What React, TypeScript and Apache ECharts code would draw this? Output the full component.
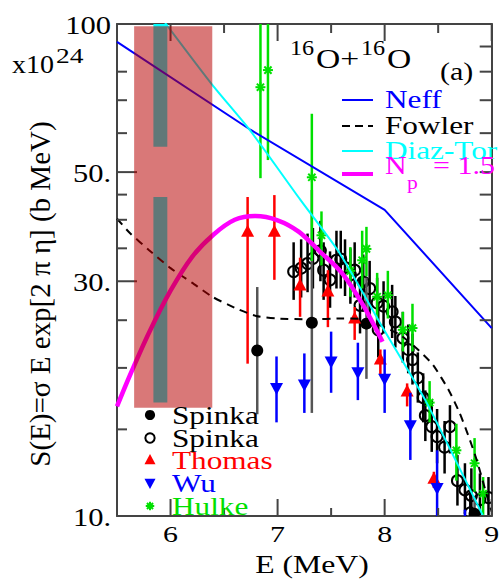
import React, { useEffect, useRef } from "react";
import * as echarts from "echarts";

const SERIF = "'Liberation Serif', 'Times New Roman', Times, serif";
const font = (size: number) => `${size}px ${SERIF}`;

// Axis ranges and tick positions
const eRange = [5.5, 9];
const sRange = [10, 100];
const eMajorTicks = [6, 7, 8, 9];
const eMinorTicks = [6.5, 7.5, 8.5];
const sLabelledTicks = [10, 30, 50, 100];
const sMinorTicks = [15, 20, 25, 35, 40, 45, 60, 70, 80];
const sRightOnlyTicks = [90];

// Model curves: [E (MeV), S (x10^24 b MeV)]
const neff = [[5.5, 92.0], [6.75, 60.9], [8.0, 41.9], [9.0, 24.1]];
const fowler = [
  [5.5, 40.2], [5.62, 37.6], [5.8, 34.7], [6.0, 31.9], [6.2, 29.8], [6.39, 27.9],
  [6.6, 26.5], [6.8, 25.5], [7.0, 25.2], [7.3, 25.1], [7.6, 25.2], [7.8, 25.1],
  [8.0, 24.2], [8.15, 23.3], [8.3, 21.9], [8.45, 20.3], [8.6, 18.0], [8.7, 16.2],
  [8.78, 14.6], [8.86, 13.0], [8.94, 11.3], [9.0, 10.2],
];
const diazTorres = [
  [5.95, 100.5], [6.39, 75.2], [6.74, 60.9], [7.21, 44.0], [7.58, 34.2],
  [7.98, 24.2], [8.38, 17.2], [8.92, 10.0], [8.95, 9.7],
];
const np15 = [
  [5.5, 16.7], [5.62, 19.3], [5.8, 23.6], [6.0, 28.7], [6.2, 33.6], [6.4, 37.3],
  [6.6, 40.0], [6.79, 40.7], [7.0, 39.9], [7.2, 37.8], [7.4, 34.4], [7.6, 31.2],
  [7.8, 26.8], [7.98, 22.6],
];

// Measurements: [E, S, S lower, S upper]
const spinkaFilled = [
  [6.81, 21.7, 16.1, 29.2], [7.32, 24.7, 16.2, 46.0], [7.83, 24.6, 19.0, 30.5], [8.84, 10.1, 9.3, 10.9],
];
const spinkaOpen = [
  [7.15, 31.4, 27.5, 36.0], [7.22, 31.9, 27.8, 36.5], [7.28, 32.6, 28.5, 37.5],
  [7.33, 33.4, 29.0, 38.5], [7.4, 34.6, 30.0, 39.8], [7.43, 31.6, 27.5, 36.0],
  [7.49, 30.2, 26.5, 34.5], [7.55, 33.1, 29.0, 38.0], [7.59, 33.3, 29.0, 38.0],
  [7.63, 32.0, 28.0, 36.5], [7.68, 30.9, 27.0, 35.0], [7.72, 31.6, 27.8, 36.0],
  [7.77, 26.8, 23.5, 30.5], [7.8, 29.9, 26.0, 34.0], [7.86, 29.0, 25.5, 33.0],
  [7.93, 27.1, 24.0, 30.5], [7.94, 23.9, 21.0, 27.0], [7.99, 26.7, 23.5, 30.0],
  [8.07, 26.0, 23.0, 29.5], [8.1, 24.8, 22.0, 28.0], [8.17, 23.0, 20.5, 26.0],
  [8.22, 21.8, 19.5, 24.5], [8.26, 20.8, 18.5, 23.5], [8.31, 19.1, 17.0, 21.5],
  [8.36, 17.4, 15.5, 19.5], [8.38, 16.0, 14.2, 18.0], [8.44, 15.2, 13.5, 17.2],
  [8.49, 14.5, 12.8, 16.5], [8.56, 13.8, 12.2, 15.6], [8.61, 15.2, 13.4, 16.8],
  [8.68, 11.8, 10.5, 13.3], [8.75, 11.3, 10.1, 12.8], [8.8, 10.15, 9.5, 11.2],
  [8.81, 11.0, 9.8, 12.5], [8.89, 10.8, 9.7, 12.2], [8.97, 10.9, 9.8, 12.0],
];
const thomas = [
  [6.72, 37.8, 20.4, 44.5], [6.97, 37.8, 30.2, 44.9], [7.21, 29.4, 25.4, 33.5],
  [7.47, 28.6, 24.2, 31.6], [7.72, 25.2, 22.8, 26.6], [7.96, 20.8, 19.4, 21.8],
  [8.21, 17.9, 16.7, 18.6], [8.46, 11.9, 11.4, 12.3],
];
const wu = [
  [6.99, 18.2, 15.5, 21.1], [7.25, 18.5, 16.2, 21.4], [7.5, 20.6, 17.8, 23.7],
  [7.75, 19.6, 17.2, 22.5], [8.0, 19.0, 16.2, 21.8], [8.24, 15.3, 13.0, 17.8],
  [8.49, 11.4, 9.9, 13.6], [8.75, 9.6, 8.6, 10.3],
];
const hulke = [
  [6.84, 74.4, 48.6, 105], [6.91, 80.6, 52.9, 105], [7.32, 48.8, 33.0, 65.7],
  [7.41, 37.2, 32.3, 41.6], [7.68, 31.5, 27.9, 35.2], [7.79, 33.1, 29.0, 38.0],
  [7.83, 34.9, 30.7, 38.7], [7.93, 27.9, 25.0, 31.2], [8.03, 28.1, 25.2, 31.5],
  [8.17, 23.9, 21.6, 26.0], [8.26, 24.1, 21.6, 27.0], [8.42, 17.0, 15.5, 18.8],
  [8.67, 13.6, 11.8, 15.4], [8.84, 12.8, 11.2, 14.4], [8.92, 11.1, 10.0, 12.0],
];

// Boxes: [E from, E to, S from, S to]
const cyanBars = [[5.84, 5.97, 17.0, 44.5], [5.84, 5.97, 56.3, 100]];
const shadedBand = [[5.66, 6.39, 16.6, 99]];

const FRAME = "#444";
const RED = "#ff0000";
const BLUE = "#0000ff";
const GREEN = "#00e000";
const CYAN = "#00ffff";
const MAGENTA = "#ff00ff";

function seg(x1: number, y1: number, x2: number, y2: number, stroke: string, lineWidth: number): any {
  return { type: "line", shape: { x1, y1, x2, y2 }, style: { stroke, lineWidth } };
}

function marker(kind: string, cx: number, cy: number, color: string, s = 1): any {
  switch (kind) {
    case "disc":
      return { type: "circle", shape: { cx, cy, r: 6 * s }, style: { fill: color } };
    case "ring":
      return { type: "circle", shape: { cx, cy, r: 5.5 * s }, style: { fill: "none", stroke: color, lineWidth: 2 } };
    case "up":
      return {
        type: "polygon",
        shape: { points: [[cx, cy - 7 * s], [cx - 6.5 * s, cy + 5 * s], [cx + 6.5 * s, cy + 5 * s]] },
        style: { fill: color },
      };
    case "down":
      return {
        type: "polygon",
        shape: { points: [[cx - 6.5 * s, cy - 5 * s], [cx + 6.5 * s, cy - 5 * s], [cx, cy + 7 * s]] },
        style: { fill: color },
      };
    default: {
      const a = 5 * s;
      const d = 3.6 * s;
      return {
        type: "group",
        children: [
          seg(cx - a, cy, cx + a, cy, color, 2),
          seg(cx, cy - a, cx, cy + a, color, 2),
          seg(cx - d, cy - d, cx + d, cy + d, color, 2),
          seg(cx - d, cy + d, cx + d, cy - d, color, 2),
        ],
      };
    }
  }
}

function text(str: string, x: number, y: number, size: number, fill: string, opts: any = {}): any {
  const align = opts.align || "left";
  return {
    type: "text",
    x,
    y,
    scaleX: opts.scaleX ?? 1.24,
    rotation: opts.rotation || 0,
    z: 20,
    style: {
      text: str,
      font: font(size),
      fill,
      align,
      verticalAlign: "middle",
      textAlign: align,
      textVerticalAlign: "middle",
    },
  };
}

function errorSeries(name: string, data: number[][], kind: string, color: string, barColor: string): any {
  return {
    type: "custom",
    name,
    data,
    z: 3,
    clip: true,
    silent: true,
    encode: { x: 0, y: [1, 2, 3] },
    renderItem: (_params: any, api: any) => {
      const e = api.value(0);
      const p = api.coord([e, api.value(1)]);
      const lo = api.coord([e, api.value(2)]);
      const hi = api.coord([e, api.value(3)]);
      return {
        type: "group",
        children: [seg(p[0], lo[1], p[0], hi[1], barColor, 2.5), marker(kind, p[0], p[1], color)],
      };
    },
  };
}

function boxSeries(data: number[][], fill: string, z: number): any {
  return {
    type: "custom",
    data,
    z,
    clip: true,
    silent: true,
    encode: { x: [0, 1], y: [2, 3] },
    renderItem: (_params: any, api: any) => {
      const a = api.coord([api.value(0), api.value(3)]);
      const b = api.coord([api.value(1), api.value(2)]);
      return {
        type: "rect",
        shape: { x: a[0], y: a[1], width: b[0] - a[0], height: b[1] - a[1] },
        style: { fill },
      };
    },
  };
}

function curve(data: number[][], color: string, width: number, extra: any = {}): any {
  return {
    type: "line",
    data,
    z: 4,
    clip: true,
    silent: true,
    showSymbol: false,
    symbol: "none",
    lineStyle: { color, width, ...(extra.lineStyle || {}) },
    smooth: extra.smooth ?? false,
  };
}

function buildOption(): any {
  const rightTicks = [...sLabelledTicks, ...sMinorTicks, ...sRightOnlyTicks];
  const tickRows = [
    ...sLabelledTicks.map((v) => [eRange[0], v, 20, 0]),
    ...sMinorTicks.map((v) => [eRange[0], v, 10, 0]),
    ...rightTicks.map((v) => [eRange[1], v, -12, 0]),
    ...eMajorTicks.map((e) => [e, sRange[0], 0, -17]),
    ...eMinorTicks.map((e) => [e, sRange[0], 0, -8]),
    ...eMajorTicks.map((e) => [e, sRange[1], 0, 17]),
    ...eMinorTicks.map((e) => [e, sRange[1], 0, 9]),
  ];

  const axisBase = {
    axisLine: { show: true, onZero: false, lineStyle: { color: FRAME, width: 2 } },
    axisTick: { show: false },
    axisLabel: { show: false },
    splitLine: { show: false },
  };

  const legendTop = [
    { label: "Neff", color: BLUE, y: 100, width: 2, dash: null },
    { label: "Fowler", color: "#000", y: 126, width: 2, dash: [8, 5] },
    { label: "Diaz-Tor", color: CYAN, y: 151, width: 2, dash: null },
  ];
  const legendBottom = [
    { label: "Spinka", kind: "disc", color: "#000", y: 415 },
    { label: "Spinka", kind: "ring", color: "#000", y: 438 },
    { label: "Thomas", kind: "up", color: RED, y: 460 },
    { label: "Wu", kind: "down", color: BLUE, y: 483 },
    { label: "Hulke", kind: "star", color: GREEN, y: 506 },
  ];

  const graphic: any[] = [
    text("S(E)=σ E exp[2 π η] (b MeV)", 40, 294, 29, "#000", { align: "center", rotation: Math.PI / 2, scaleX: 1 }),
    text("E (MeV)", 312, 565, 25, "#000", { align: "center", scaleX: 1.27 }),
    text("x10", 12, 65, 25, "#000", { scaleX: 1.12 }),
    text("24", 56, 55, 22, "#000", { scaleX: 1.25 }),
    text("16", 290, 48, 21, "#000", { scaleX: 1.15 }),
    text("O+", 316, 58, 28, "#000", { scaleX: 1.2 }),
    text("16", 361, 48, 21, "#000", { scaleX: 1.15 }),
    text("O", 387, 58, 28, "#000", { scaleX: 1.2 }),
    text("(a)", 440, 71, 25, "#000", { scaleX: 1.2 }),
  ];
  legendTop.forEach((row) => {
    const ln = seg(342, row.y, 373, row.y, row.color, row.width);
    if (row.dash) ln.style.lineDash = row.dash;
    graphic.push(ln);
    graphic.push(text(row.label, 385, row.y, 25, row.color, { scaleX: 1.25 }));
  });
  graphic.push(seg(342, 174, 373, 174, MAGENTA, 4));
  graphic.push(text("N", 385, 165, 25, MAGENTA, { scaleX: 1.2 }));
  graphic.push(text("p", 407, 183, 18, MAGENTA, { scaleX: 1.2 }));
  graphic.push(text("= 1.5", 433, 165, 25, MAGENTA, { scaleX: 1.2 }));
  legendBottom.forEach((row) => {
    graphic.push(marker(row.kind, 150, row.y, row.color, 0.85));
    graphic.push(text(row.label, 172, row.y + 1, 25, row.color, { scaleX: 1.25 }));
  });

  return {
    animation: false,
    backgroundColor: "#fff",
    grid: { left: 117, top: 24, right: 12.3, bottom: 65, outerBoundsMode: "none" },
    xAxis: [
      { type: "value", min: eRange[0], max: eRange[1], position: "bottom", ...axisBase },
      { type: "value", min: eRange[0], max: eRange[1], position: "top", ...axisBase },
    ],
    yAxis: [
      { type: "log", logBase: 10, min: sRange[0], max: sRange[1], position: "left", ...axisBase },
      { type: "log", logBase: 10, min: sRange[0], max: sRange[1], position: "right", ...axisBase },
    ],
    graphic,
    series: [
      boxSeries(cyanBars, CYAN, 2),
      errorSeries("Spinka open", spinkaOpen, "ring", "#000", "#000"),
      errorSeries("Spinka", spinkaFilled, "disc", "#000", "#555"),
      errorSeries("Thomas", thomas, "up", RED, RED),
      errorSeries("Wu", wu, "down", BLUE, BLUE),
      errorSeries("Hulke", hulke, "star", GREEN, GREEN),
      curve(neff, BLUE, 2),
      curve(fowler, "#000", 2, { smooth: 0.2, lineStyle: { type: [8, 6] } }),
      curve(diazTorres, CYAN, 2, { smooth: 0.2 }),
      curve(np15, MAGENTA, 4.5, { smooth: 0.3 }),
      {
        type: "custom",
        data: tickRows,
        z: 5,
        clip: false,
        silent: true,
        encode: { x: 0, y: 1 },
        renderItem: (_params: any, api: any) => {
          const p = api.coord([api.value(0), api.value(1)]);
          return seg(p[0], p[1], p[0] + api.value(2), p[1] + api.value(3), FRAME, 2);
        },
      },
      boxSeries(shadedBand, "rgba(183,0,0,0.53)", 6),
      {
        type: "custom",
        data: sLabelledTicks.map((v) => [eRange[0], v]),
        z: 7,
        clip: false,
        silent: true,
        encode: { x: 0, y: 1 },
        renderItem: (_params: any, api: any) => {
          const v = api.value(1);
          const p = api.coord([api.value(0), v]);
          return text(v === 100 ? "100" : `${v}.`, p[0] - 6, p[1] + 1, 25, "#000", { align: "right", scaleX: 1.22 });
        },
      },
      {
        type: "custom",
        data: eMajorTicks.map((e) => [e, sRange[0]]),
        z: 7,
        clip: false,
        silent: true,
        encode: { x: 0, y: 1 },
        renderItem: (_params: any, api: any) => {
          const e = api.value(0);
          const p = api.coord([e, api.value(1)]);
          return text(String(e), p[0], p[1] + 18, 23, "#000", { align: "center", scaleX: 1.3 });
        },
      },
    ],
  };
}

export default function App() {
  const ref = useRef<HTMLDivElement>(null);
  useEffect(() => {
    if (!ref.current) return;
    const chart = echarts.init(ref.current, undefined, { renderer: "svg" });
    chart.setOption(buildOption());
    return () => chart.dispose();
  }, []);
  return (
    <div
      ref={ref}
      style={{ position: "absolute", left: 0, top: 0, width: 504, height: 581, background: "#fff" }}
    />
  );
}
